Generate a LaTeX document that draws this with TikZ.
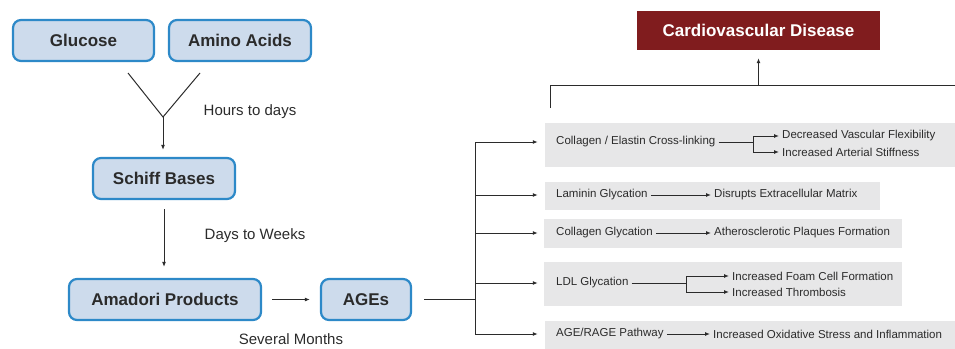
\documentclass[tikz,border=0pt]{standalone}
\usepackage{fontspec}
\setmainfont{Liberation Sans}
\definecolor{agefill}{HTML}{CDDBEC}
\definecolor{ageedge}{HTML}{2D89C8}
\definecolor{cvdred}{HTML}{801C1E}
\definecolor{panelgray}{HTML}{E7E7E8}
\definecolor{inkgray}{HTML}{2B2B2B}
\usetikzlibrary{arrows.meta}

\begin{document}
\begin{tikzpicture}[x=1pt,y=-1pt,
  stage/.style={draw=ageedge,fill=agefill,line width=2.2pt,rounded corners=8pt,
    minimum height=41pt,font=\fontsize{17}{20}\selectfont\bfseries,text=inkgray},
  panel/.style={fill=panelgray,inner sep=0pt},
  item/.style={anchor=west,inner xsep=3pt,inner ysep=1pt,
    font=\fontsize{11.5}{13}\selectfont,text=inkgray},
  note/.style={font=\fontsize{15}{18}\selectfont,text=inkgray},
  conn/.style={draw=inkgray,line width=1pt},
  arr/.style={conn,-{Latex[length=5pt,width=4pt]}}]
  \useasboundingbox (0,0) rectangle (955,348);
  % formation chain
  \node[stage,minimum width=141pt] (glucose) at (83.5,40.5) {Glucose};
  \node[stage,minimum width=142pt] (amino) at (240,40.5) {Amino Acids};
  \node[stage,minimum width=142pt] (schiff) at (164,178.5) {Schiff Bases};
  \node[stage,minimum width=192pt] (amadori) at (165,299.5) {Amadori Products};
  \node[stage,minimum width=90pt] (ages) at (366,299.5) {AGEs};
  \coordinate (ya) at (128,73);
  \coordinate (yb) at (200,73);
  \coordinate (yj) at (163,117);
  \draw[conn] (ya) -- (yj) -- (yb);
  \draw[arr,shorten >=7pt] (yj) -- (yj |- schiff.north);
  \draw[arr,shorten <=9pt,shorten >=11pt] (schiff.south) -- (schiff.south |- amadori.north);
  \draw[arr,shorten <=10pt,shorten >=10pt] (amadori.east) -- (ages.west);
  \node[note] (hours) at (250,112) {Hours to days};
  \node[note] (weeks) at (255,236) {Days to Weeks};
  \node[note] (months) at (291,339.5) {Several Months};
  % effects
  \node[panel,minimum width=412pt,minimum height=44pt] (p1) at (751,145) {};
  \node[panel,minimum width=335pt,minimum height=28pt] (p2) at (712.5,196) {};
  \node[panel,minimum width=358pt,minimum height=29pt] (p3) at (723,233.5) {};
  \node[panel,minimum width=358pt,minimum height=44pt] (p4) at (723,284) {};
  \node[panel,minimum width=412pt,minimum height=28pt] (p5) at (751,335) {};
  \node[item] (c1) at (553,142) {Collagen / Elastin Cross-linking};
  \node[item] (e1a) at (779,136) {Decreased Vascular Flexibility};
  \node[item] (e1b) at (779,152) {Increased Arterial Stiffness};
  \node[item] (c2) at (553,195) {Laminin Glycation};
  \node[item] (e2) at (711,195) {Disrupts Extracellular Matrix};
  \node[item] (c3) at (553,233) {Collagen Glycation};
  \node[item] (e3) at (711,233) {Atherosclerotic Plaques Formation};
  \node[item] (c4) at (553,283) {LDL Glycation};
  \node[item] (e4a) at (729,276) {Increased Foam Cell Formation};
  \node[item] (e4b) at (729,292) {Increased Thrombosis};
  \node[item] (c5) at (553,334) {AGE/RAGE Pathway};
  \node[item] (e5) at (710,334) {Increased Oxidative Stress and Inflammation};
  \coordinate (s1) at (753,142);
  \coordinate (s4) at (686,283);
  \draw[arr] (c1.east) -- (s1) |- (e1a.west);
  \draw[arr] (s1) |- (e1b.west);
  \draw[arr] (c2.east) -- (e2.west);
  \draw[arr] (c3.east) -- (e3.west);
  \draw[arr] (c4.east) -- (s4) |- (e4a.west);
  \draw[arr] (s4) |- (e4b.west);
  \draw[arr] (c5.east) -- (e5.west);
  \coordinate (trunk) at (475,300);
  \draw[conn,shorten <=12pt] (ages.east) -- (ages.east -| trunk);
  \draw[conn] (trunk |- c1.west) -- (trunk |- c5.west);
  \foreach \n in {c1,c2,c3,c4,c5}
    \draw[arr,shorten >=7pt] (trunk |- \n.west) -- (p1.west |- \n.west);
  % outcome
  \node[fill=cvdred,text=white,font=\fontsize{17}{20}\selectfont\bfseries,
    minimum width=243pt,minimum height=39pt] (cvd) at (758.5,30.5) {Cardiovascular Disease};
  \coordinate (topl) at (550,108);
  \coordinate (topr) at (955,85);
  \draw[conn] (topl) |- (topr);
  \draw[arr,shorten >=8pt] (cvd.south |- topr) -- (cvd.south);
\end{tikzpicture}
\end{document}
